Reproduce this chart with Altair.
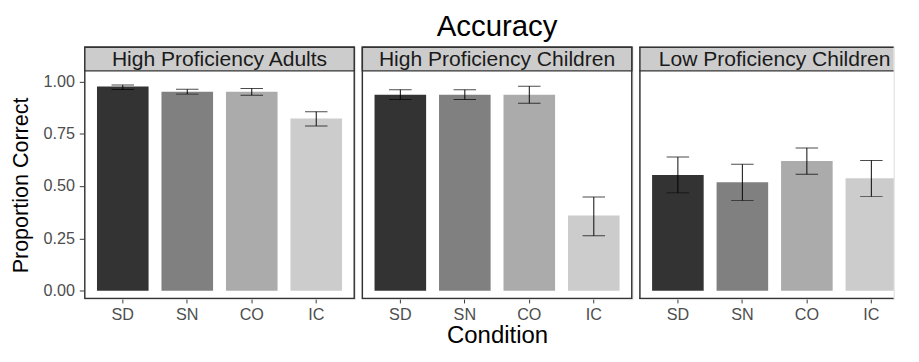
import altair as alt
import pandas as pd

# ---------------- data ----------------
groups = ["High Proficiency Adults", "High Proficiency Children", "Low Proficiency Children"]
conditions = ["SD", "SN", "CO", "IC"]
fill_colors = ["#333333", "#808080", "#ABABAB", "#CCCCCC"]

adults_mean = [0.976, 0.951, 0.951, 0.823]
adults_lo = [0.962, 0.940, 0.935, 0.788]
adults_hi = [0.984, 0.963, 0.967, 0.856]

hp_children_mean = [0.937, 0.937, 0.937, 0.360]
hp_children_lo = [0.914, 0.914, 0.896, 0.263]
hp_children_hi = [0.961, 0.961, 0.978, 0.448]

lp_children_mean = [0.554, 0.519, 0.620, 0.538]
lp_children_lo = [0.468, 0.431, 0.557, 0.450]
lp_children_hi = [0.639, 0.605, 0.683, 0.623]

y_ticks = [0.0, 0.25, 0.5, 0.75, 1.0]

rows = []
for g, m, lo, hi in zip(
    groups,
    [adults_mean, hp_children_mean, lp_children_mean],
    [adults_lo, hp_children_lo, lp_children_lo],
    [adults_hi, hp_children_hi, lp_children_hi],
):
    for c, mv, l, h in zip(conditions, m, lo, hi):
        rows.append({"group": g, "condition": c, "mean": mv, "lo": l, "hi": h})
df = pd.DataFrame(rows)

# ---------------- layout ----------------
FONT = "Liberation Sans"
FULL_W = 283      # nominal panel width (x range)
H = 264           # panel height incl. strip
STRIP = 25.5      # strip height
EDGE = "#333333"

y_scale = alt.Scale(domain=[-0.0398, 1.0512], range=[H, STRIP], nice=False)


def panel(idx, view_w, show_y, show_x_title, title=None):
    g = groups[idx]
    base = alt.Chart(df).transform_filter(alt.FieldEqualPredicate(field="group", equal=g))
    one = base.transform_filter(alt.FieldEqualPredicate(field="condition", equal="SD"))

    x_axis = alt.Axis(
        labelFontSize=16.9, labelColor="#4D4D4D", labelFont=FONT,
        tickColor=EDGE, tickSize=4, tickWidth=1, labelPadding=4,
        domain=False, grid=False, labelAngle=0,
        titleFontSize=25, titleFont=FONT, titleFontWeight="normal",
        titleColor="black", titlePadding=1.5,
    )
    x = alt.X(
        "condition:N", sort=conditions,
        scale=alt.Scale(domain=conditions, range=[0, FULL_W], paddingInner=0.2, paddingOuter=0.2),
        axis=x_axis, title="Condition" if show_x_title else None,
    )
    if show_y:
        y_axis = alt.Axis(
            values=y_ticks, format=".2f",
            labelFontSize=16.9, labelColor="#4D4D4D", labelFont=FONT,
            tickColor=EDGE, tickSize=5, tickWidth=1, labelPadding=5,
            domain=False, grid=False,
            titleFontSize=22.5, titleFont=FONT, titleFontWeight="normal",
            titleColor="black", titlePadding=11,
        )
        ytitle = "Proportion Correct"
    else:
        y_axis = None
        ytitle = None

    def Y(field):
        return alt.Y(field, scale=y_scale, axis=y_axis, title=ytitle)

    bars = base.mark_bar(clip=True).encode(
        x=x, y=Y("mean:Q"), y2=alt.datum(0),
        color=alt.Color("condition:N", scale=alt.Scale(domain=conditions, range=fill_colors), legend=None),
    )
    rule = base.mark_rule(color="black", strokeWidth=1, clip=True).encode(
        x=x, y=Y("lo:Q"), y2="hi:Q"
    )
    cap_lo = base.mark_tick(color="black", size=23.5, thickness=1, orient="horizontal", clip=True).encode(
        x=x, y=Y("lo:Q")
    )
    cap_hi = base.mark_tick(color="black", size=23.5, thickness=1, orient="horizontal", clip=True).encode(
        x=x, y=Y("hi:Q")
    )
    strip_text = one.mark_text(font=FONT, fontSize=22, color="#1A1A1A", baseline="middle", align="center").encode(
        x=alt.value(FULL_W / 2), y=alt.value(STRIP / 2 + 1), text="group:N"
    )

    if view_w >= FULL_W:
        strip = one.mark_rect(fill="#CCCCCC", stroke=EDGE, strokeWidth=1.5, clip=True).encode(
            x=alt.value(0), x2=alt.value(FULL_W), y=alt.value(0), y2=alt.value(STRIP)
        )
        border = one.mark_rect(fill="white", fillOpacity=0, stroke=EDGE, strokeWidth=3, clip=True).encode(
            x=alt.value(0), x2=alt.value(FULL_W), y=alt.value(0), y2=alt.value(H)
        )
        layers = [strip, bars, rule, cap_lo, cap_hi, border, strip_text]
    else:
        # last panel is cut by the picture's right edge: no right border
        strip = one.mark_rect(fill="#CCCCCC", clip=True).encode(
            x=alt.value(0), x2=alt.value(view_w), y=alt.value(0), y2=alt.value(STRIP)
        )
        left = one.mark_rule(color=EDGE, strokeWidth=3, clip=True).encode(
            x=alt.value(0), y=alt.value(0), y2=alt.value(H)
        )
        top = one.mark_rule(color=EDGE, strokeWidth=3, clip=True).encode(
            x=alt.value(0), x2=alt.value(view_w), y=alt.value(0)
        )
        bottom = one.mark_rule(color=EDGE, strokeWidth=3, clip=True).encode(
            x=alt.value(0), x2=alt.value(view_w), y=alt.value(H)
        )
        mid = one.mark_rule(color=EDGE, strokeWidth=1.5, clip=True).encode(
            x=alt.value(0), x2=alt.value(view_w), y=alt.value(STRIP)
        )
        layers = [strip, bars, rule, cap_lo, cap_hi, left, top, bottom, mid, strip_text]

    layer = alt.layer(*layers).properties(width=view_w, height=H)
    if title is not None:
        layer = layer.properties(title=title)
    return layer


title = alt.TitleParams(
    "Accuracy", fontSize=30.7, font=FONT, fontWeight="normal", color="black",
    anchor="middle", offset=4.6,
)

p1 = panel(0, FULL_W, True, False)
p2 = panel(1, FULL_W, False, True, title=title)
p3 = panel(2, 266, False, False)

chart = alt.hconcat(p1, p2, p3, spacing=5).properties(
    padding={"left": 1.5, "top": -4.5, "right": 0, "bottom": -5}
).configure_view(stroke=None).configure(font=FONT)

chart.save("out.html", embed_options={"renderer": "svg", "actions": False})
